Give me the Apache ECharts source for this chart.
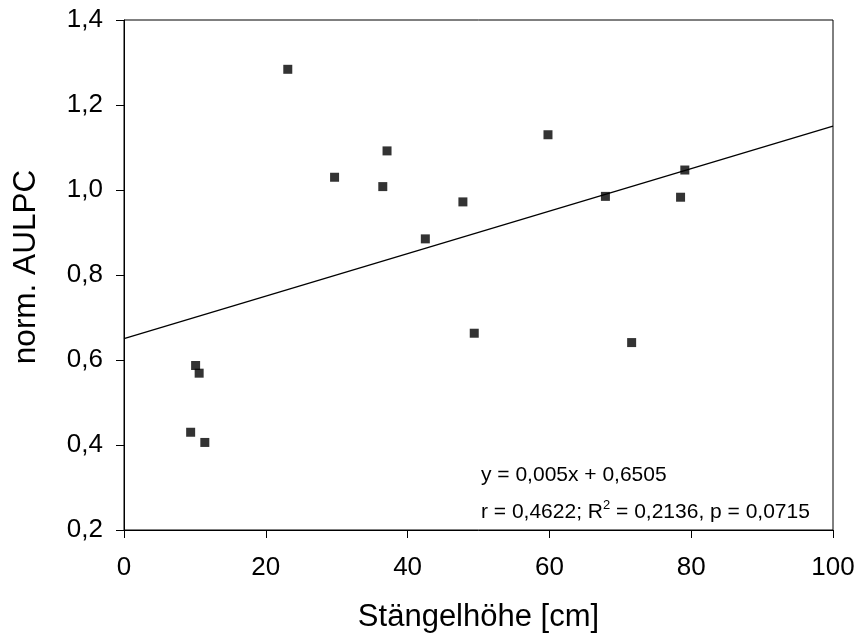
<!DOCTYPE html>
<html>
<head>
<meta charset="utf-8">
<script src="https://cdn.jsdelivr.net/npm/echarts@6/dist/echarts.min.js"></script>
<style>html,body{margin:0;padding:0;background:#fff}#chart{width:858px;height:635px}</style>
</head>
<body>
<div id="chart"></div>
<script>
// Data
var stemHeight = [23.1, 29.7, 37.1, 36.5, 47.8, 42.5, 59.8, 67.9, 79.1, 78.5, 10.1, 10.6, 9.4, 11.4, 49.4, 71.6];
var normAULPC  = [1.284, 1.030, 1.092, 1.008, 0.972, 0.885, 1.130, 0.985, 1.047, 0.983, 0.587, 0.569, 0.430, 0.406, 0.663, 0.641];
var trendX = [0, 100];
var trendY = [0.6505, 1.1505];
var xTickLabels = ['0', '20', '40', '60', '80', '100'];
var yTickLabels = ['0,2', '0,4', '0,6', '0,8', '1,0', '1,2', '1,4'];
var xTitle = 'Stängelhöhe [cm]';
var yTitle = 'norm. AULPC';
var eqLine = 'y = 0,005x + 0,6505';
var statLine = ['r = 0,4622; R', '2', ' = 0,2136, p = 0,0715'];

var FONT = '"Liberation Sans", Arial, Helvetica, sans-serif';
var points = stemHeight.map(function (x, i) { return [x, normAULPC[i]]; });
var trend = trendX.map(function (x, i) { return [x, trendY[i]]; });

var chart = echarts.init(document.getElementById('chart'), null, {renderer: 'canvas'});
chart.setOption({
  animation: false,
  backgroundColor: '#ffffff',
  textStyle: {fontFamily: FONT, color: '#000'},
  grid: {left: 124, right: 25, top: 20, bottom: 105, containLabel: false, outerBoundsMode: 'none',
    show: true, borderColor: '#000', borderWidth: 1, backgroundColor: 'transparent'},
  xAxis: {
    type: 'value', min: 0, max: 100, interval: 20,
    name: xTitle, nameLocation: 'middle', nameGap: 72,
    nameTextStyle: {fontFamily: FONT, fontSize: 31, color: '#000'},
    axisLine: {show: true, onZero: false, lineStyle: {color: '#000', width: 1}},
    axisTick: {show: true, inside: false, length: 8, lineStyle: {color: '#000', width: 1}},
    axisLabel: {fontFamily: FONT, fontSize: 26, color: '#000', margin: 25,
      formatter: function (v) { return xTickLabels[Math.round(v / 20)]; }},
    splitLine: {show: false}
  },
  yAxis: {
    type: 'value', min: 0.2, max: 1.4, interval: 0.2,
    name: yTitle, nameLocation: 'middle', nameGap: 82,
    nameTextStyle: {fontFamily: FONT, fontSize: 31.5, color: '#000', padding: [0, 0, 0, 16]},
    axisLine: {show: true, onZero: false, lineStyle: {color: '#000', width: 1}},
    axisTick: {show: true, inside: false, length: 8, lineStyle: {color: '#000', width: 1}},
    axisLabel: {fontFamily: FONT, fontSize: 26, color: '#000', margin: 21,
      formatter: function (v) { return yTickLabels[Math.round((v - 0.2) / 0.2)]; }},
    splitLine: {show: false}
  },
  series: [
    {
      type: 'line', data: trend, symbol: 'none', silent: true,
      lineStyle: {color: '#000', width: 1.3}, z: 2
    },
    {
      type: 'scatter', data: points, symbol: 'rect', symbolSize: 9,
      itemStyle: {color: '#000'}, z: 3
    }
  ],
  graphic: [
    {
      type: 'text', left: 481, top: 465, silent: true,
      style: {text: eqLine, fontFamily: FONT, fontSize: 21, fill: '#000'}
    },
    {
      type: 'text', left: 481, top: 499, silent: true,
      style: {
        text: '{a|' + statLine[0] + '}{s|' + statLine[1] + '}{a|' + statLine[2] + '}',
        fontFamily: FONT, fill: '#000',
        rich: {
          a: {fontFamily: FONT, fontSize: 21, lineHeight: 24, fill: '#000', verticalAlign: 'bottom'},
          s: {fontFamily: FONT, fontSize: 13, lineHeight: 24, fill: '#000', verticalAlign: 'top'}
        }
      }
    }
  ]
});
</script>
</body>
</html>
